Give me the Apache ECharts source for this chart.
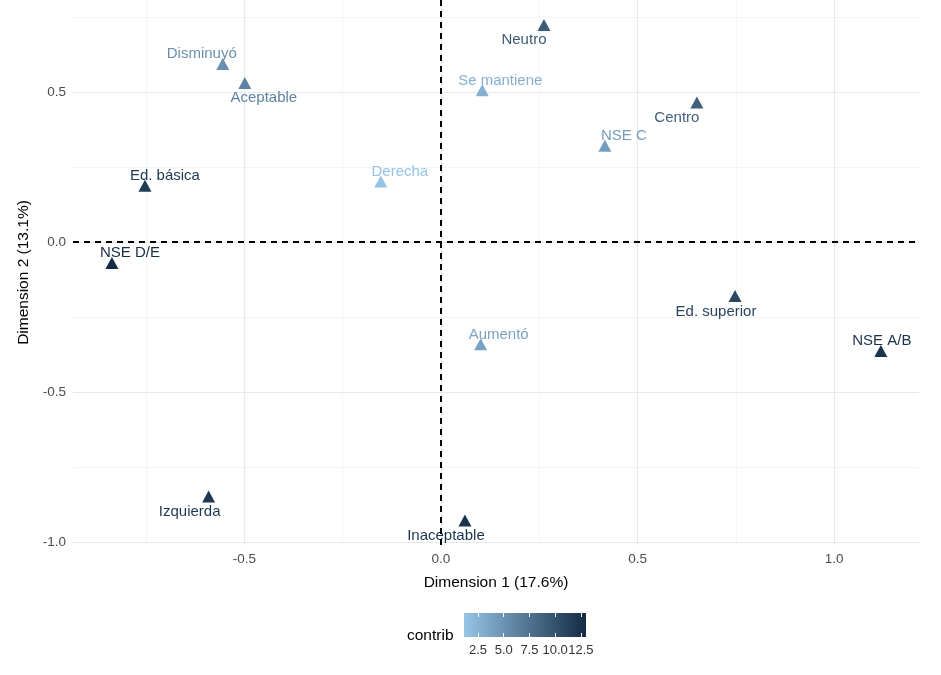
<!DOCTYPE html>
<html>
<head>
<meta charset="utf-8">
<script src="https://cdn.jsdelivr.net/npm/echarts@6/dist/echarts.min.js"></script>
<style>html,body{margin:0;padding:0;background:#fff}#c{width:941px;height:675px}</style>
</head>
<body>
<div id="c"></div>
<script>
// ---- data ----
const labels   = ['Disminuyó','Aceptable','Ed. básica','Derecha','NSE D/E','Neutro','Se mantiene','Centro','NSE C','Ed. superior','NSE A/B','Aumentó','Izquierda','Inaceptable'];
const dim1     = [-0.555,-0.499,-0.753,-0.153,-0.837,0.262,0.105,0.651,0.417,0.748,1.119,0.101,-0.591,0.061];
const dim2     = [0.594,0.530,0.188,0.202,-0.070,0.724,0.506,0.465,0.321,-0.180,-0.363,-0.341,-0.848,-0.928];
const contrib  = [5.2,6.2,11.8,1.2,12.9,9.3,2.8,9.0,4.2,11.0,12.4,3.8,12.0,12.3];
const xTicks   = [-0.5,0,0.5,1.0];
const xMinor   = [-0.75,-0.25,0.25,0.75];
const yTicks   = [-1.0,-0.5,0,0.5];
const yMinor   = [-0.75,-0.25,0.25,0.75];
const legendTicks = [2.5,5.0,7.5,10.0,12.5];
const contribRange = [1.14,13.0];
// label nudges in pixels (style, not data)
const labelNudge = [[-21,-10],[19,15],[20,-10],[19,-10],[18,-10],[-20,15],[18,-9],[-20,15],[19,-10],[-19,16],[1,-10],[18,-9],[-19,15],[-19,15]];

const LOW = '#96c5e8', HIGH = '#132b43';
const FONT = '"Liberation Sans", Arial, sans-serif';
const SW = 13, SH = 12;

const chart = echarts.init(document.getElementById('c'), null, {renderer:'canvas'});

const fmt = v => Number(v).toFixed(1);

const pts = labels.map((n,i)=>({
  name:n,
  value:[dim1[i],dim2[i],contrib[i]],
  label:{position:[SW/2+labelNudge[i][0], SH/2+labelNudge[i][1]]}
}));

const xMin=-0.936, xMax=1.216, yMin=-1.01, yMax=0.807;

chart.setOption({
  animation:false,
  backgroundColor:'#ffffff',
  textStyle:{fontFamily:FONT},
  grid:[
    {left:73,right:22,top:-2,bottom:130,show:false},
    {left:464,right:355,top:613,bottom:38,show:true,borderWidth:0,
     backgroundColor:{type:'linear',x:0,y:0,x2:1,y2:0,colorStops:[{offset:0,color:LOW},{offset:1,color:HIGH}]}}
  ],
  xAxis:[
    {type:'value',gridIndex:0,min:xMin,max:xMax,
     name:'Dimension 1 (17.6%)',nameLocation:'middle',nameGap:30,
     nameTextStyle:{color:'#000',fontSize:15.5,fontFamily:FONT},
     axisLine:{show:false},
     axisTick:{show:false,customValues:xTicks},
     axisLabel:{customValues:xTicks,formatter:fmt,color:'#4d4d4d',fontSize:13.5,margin:7,fontFamily:FONT},
     splitLine:{show:true,lineStyle:{color:'#e8e8e8',width:1.2}}},
    {type:'value',gridIndex:0,min:xMin,max:xMax,
     axisLine:{show:false},axisTick:{show:false,customValues:xMinor},
     axisLabel:{show:false,customValues:xMinor},
     splitLine:{show:true,lineStyle:{color:'#f2f2f2',width:0.8}}},
    {type:'value',gridIndex:1,min:contribRange[0],max:contribRange[1],position:'bottom',
     axisLine:{show:false},
     axisTick:{show:true,inside:true,length:4,customValues:legendTicks,lineStyle:{color:'#ffffff',width:1}},
     axisLabel:{customValues:legendTicks,formatter:fmt,color:'#333333',fontSize:13,margin:7,fontFamily:FONT,hideOverlap:false},
     splitLine:{show:false}},
    {type:'value',gridIndex:1,min:contribRange[0],max:contribRange[1],position:'top',
     axisLine:{show:false},
     axisTick:{show:true,inside:true,length:4,customValues:legendTicks,lineStyle:{color:'#ffffff',width:1}},
     axisLabel:{show:false,customValues:legendTicks},
     splitLine:{show:false}}
  ],
  yAxis:[
    {type:'value',gridIndex:0,min:yMin,max:yMax,
     name:'Dimension 2 (13.1%)',nameLocation:'middle',nameGap:36,nameRotate:90,
     nameTextStyle:{color:'#000',fontSize:15.5,fontFamily:FONT},
     axisLine:{show:false},
     axisTick:{show:false,customValues:yTicks},
     axisLabel:{customValues:yTicks,formatter:fmt,color:'#4d4d4d',fontSize:13.5,margin:7,fontFamily:FONT},
     splitLine:{show:true,lineStyle:{color:'#e8e8e8',width:1.2}}},
    {type:'value',gridIndex:0,min:yMin,max:yMax,
     axisLine:{show:false},axisTick:{show:false,customValues:yMinor},
     axisLabel:{show:false,customValues:yMinor},
     splitLine:{show:true,lineStyle:{color:'#f2f2f2',width:0.8}}},
    {type:'value',gridIndex:1,min:0,max:1,show:false}
  ],
  visualMap:{
    show:false,type:'continuous',dimension:2,seriesIndex:0,
    min:contribRange[0],max:contribRange[1],
    inRange:{color:[LOW,HIGH]}
  },
  graphic:[
    {type:'text',left:407,top:628,style:{text:'contrib',fontSize:15.5,fill:'#000',fontFamily:FONT}}
  ],
  series:[
    {type:'scatter',xAxisIndex:0,yAxisIndex:0,
     symbol:'triangle',symbolSize:[SW,SH],
     itemStyle:{opacity:1},
     data:pts,
     label:{show:true,formatter:p=>p.name,color:'inherit',align:'center',verticalAlign:'middle',fontSize:15,fontFamily:FONT},
     emphasis:{disabled:true},
     markLine:{silent:true,symbol:'none',label:{show:false},
       lineStyle:{color:'#000',type:[6,5],width:2},
       data:[{xAxis:0},{yAxis:0}]},
     z:3}
  ]
});
</script>
</body>
</html>
